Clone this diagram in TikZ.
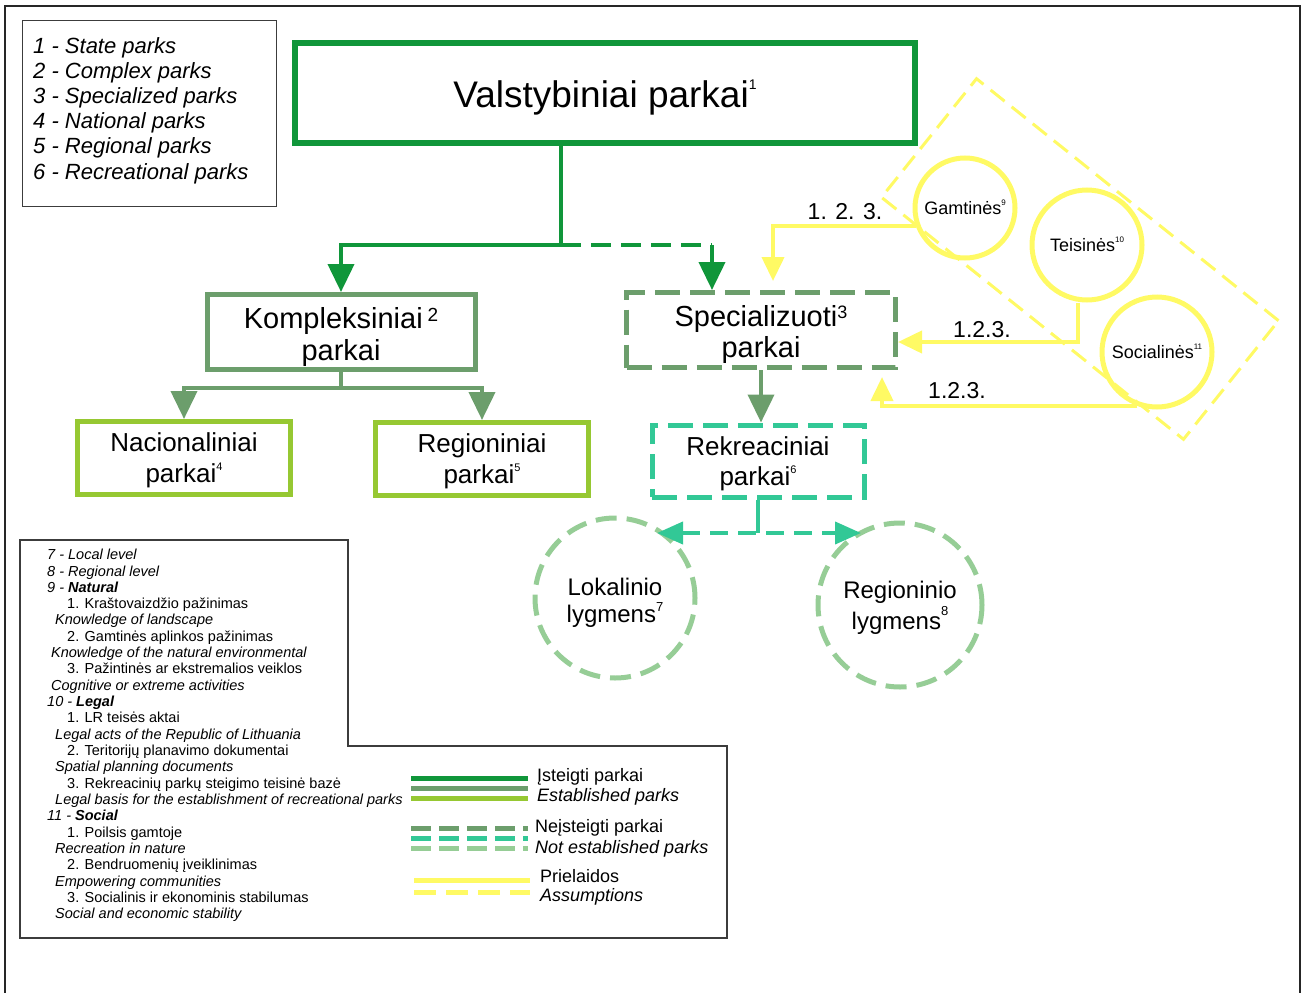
\documentclass[tikz,border=0pt]{standalone}
\usepackage{fontspec}
\setmainfont{Liberation Sans}
\usetikzlibrary{arrows.meta}
\definecolor{cDark}{RGB}{16,150,58}
\definecolor{cGray}{RGB}{108,158,108}
\definecolor{cLime}{RGB}{150,200,50}
\definecolor{cTeal}{RGB}{50,200,150}
\definecolor{cPale}{RGB}{150,205,150}
\definecolor{cYel}{RGB}{255,250,100}
\definecolor{cFrame}{RGB}{60,60,60}
\newcommand\supx[3]{\smash{\raisebox{#2}{\fontsize{#1}{#1}\selectfont #3}}}
\newcommand\fs[2]{\fontsize{#1}{#2}\selectfont}
\newcommand\dn[1]{\rule{0pt}{#1}}
\begin{document}
\begin{tikzpicture}[x=1pt,y=-1pt,
  parkbox/.style={draw, line width=5pt, align=center, inner sep=0pt, text=black},
  boxdash/.style={dash pattern=on 25pt off 10pt},
  ycirc/.style={circle, draw=cYel, line width=5pt, inner sep=0pt, align=center},
  pcirc/.style={circle, draw=cPale, line width=5pt, dash pattern=on 21pt off 10pt, inner sep=0pt, align=center, font=\fs{24}{27}},
  estab/.style={draw=cDark, line width=4pt},
  gline/.style={draw=cGray, line width=4pt},
  tline/.style={draw=cTeal, line width=4pt},
  yline/.style={draw=cYel, line width=4pt},
  gtip/.style={-{Triangle[width=26pt,length=28pt]}},
  ytip/.style={-{Triangle[width=22pt,length=24pt]}},
  ttip/.style={{Triangle[width=22pt,length=26pt]}-{Triangle[width=22pt,length=26pt]}},
  lab/.style={font=\fs{23}{26}, inner sep=0pt},
  legtxt/.style={anchor=north west, align=left, inner sep=0pt},
  legline/.style={draw=cFrame, line width=1.2pt}
]
\useasboundingbox (0,0) rectangle (1307,993);
% outer frame
\draw[line width=2pt, black!85] (5,993) -- (5,6) -- (1300,6) -- (1300,993);

% legend 1
\node[legline, anchor=north west, minimum width=254pt, minimum height=186pt, inner sep=0pt] (leg1) at (22,20) {};
\node[legtxt, font=\fs{22}{25.2}\itshape] (leg1t) at (33,37) {1 - State parks\\2 - Complex parks\\3 - Specialized parks\\4 - National parks\\5 - Regional parks\\6 - Recreational parks};

% main boxes
\node[parkbox, draw=cDark, line width=6pt, minimum width=620pt, minimum height=100pt, font=\fs{37}{40}] (val) at (605,93) {\dn{37pt}Valstybiniai parkai\supx{14}{18pt}{1}};
\node[parkbox, draw=cGray, minimum width=268pt, minimum height=75pt, font=\fs{29}{32}] (komp) at (341,332) {\dn{31pt}Kompleksiniai\,\supx{19}{7pt}{2}\\parkai};
\node[parkbox, draw=cLime, minimum width=213pt, minimum height=73pt, font=\fs{26}{31}] (nac) at (184,458) {\dn{23pt}Nacionaliniai\\parkai\supx{11}{12pt}{4}};
\node[parkbox, draw=cLime, minimum width=213pt, minimum height=73pt, font=\fs{26}{31}] (reg) at (482,459) {\dn{23pt}Regioniniai\\parkai\supx{11}{12pt}{5}};
\node[parkbox, boxdash, draw=cGray, minimum width=269pt, minimum height=75pt, font=\fs{29}{31}] (spec) at (761,330) {\dn{31pt}Specializuoti\supx{18}{8pt}{3}\\parkai};
\node[parkbox, boxdash, draw=cTeal, minimum width=212pt, minimum height=72pt, font=\fs{26}{30}] (rek) at (758,461) {\dn{25pt}Rekreaciniai\\parkai\supx{11}{12pt}{6}};

% level circles
\node[pcirc, minimum size=160pt] (lok) at (615,598) {\dn{27.5pt}Lokalinio\\lygmens\supx{13}{11pt}{7}};
\node[pcirc, minimum size=164pt, font=\fs{24}{31}] (regl) at (900,605) {\dn{23.5pt}Regioninio\\lygmens\supx{13}{14pt}{8}};

% yellow group
\node[draw=cYel, line width=3pt, dash pattern=on 18pt off 9pt, minimum width=387pt, minimum height=152pt, rotate=-38.7, inner sep=0pt] (yframe) at (1080,259) {};
\node[ycirc, minimum size=100pt, font=\fs{18}{20}] (gam) at (965,208) {Gamtinės\supx{8}{9pt}{9}};
\node[ycirc, minimum size=110pt, font=\fs{18}{20}] (tei) at (1087,245) {Teisinės\supx{8}{9pt}{10}};
\node[ycirc, minimum size=110pt, font=\fs{18}{20}] (soc) at (1157,352) {Socialinės\supx{8}{9pt}{11}};

% green connectors
\coordinate (j1) at (561,245);
\coordinate (j1b) at (712,245);
\draw[estab] (j1 |- val.south) -- (j1);
\draw[estab, gtip] (j1) -| (komp.north);
\draw[estab, dash pattern=on 20pt off 10pt] (j1) -- (j1b);
\draw[estab, gtip] (j1b) -- (j1b |- spec.north);

\coordinate (j2) at (343,388);
\draw[gline] (komp.south) -- (komp.south |- j2);
\draw[gline, gtip] (komp.south |- j2) -| (nac.north);
\draw[gline, gtip] (komp.south |- j2) -| (reg.north);
\draw[gline, gtip] (spec.south) -- (spec.south |- rek.north);

\coordinate (j3) at (758,533);
\coordinate (t1) at (657,533);
\coordinate (t2) at (861,533);
\draw[tline] (rek.south) -- (j3);
\draw[tline, dash pattern=on 18pt off 10pt, ttip] (t1) -- (t2);

% yellow connectors
\coordinate (ya1) at (773,281);
\draw[yline, ytip] (gam.200) -| (ya1);
\node[lab] (l1) at (845,212) {1. 2. 3.};
\coordinate (y2) at (1078,342);
\draw[yline, ytip] (y2 |- tei.south) -- (y2) -- (y2 -| spec.east);
\node[lab] (l2) at (982,330) {1.2.3.};
\coordinate (ya3) at (882,377);
\draw[yline, ytip] (soc.250) -| (ya3);
\node[lab] (l3) at (957,391) {1.2.3.};

% legend 2
\draw[legline] (20,540) -- (348,540) -- (348,746) -- (727,746) -- (727,938) -- (20,938) -- cycle;
\node[legtxt, font=\fs{14.5}{16.32}] (leg2t) at (47,549) {%
\textit{7 - Local level}\\
\textit{8 - Regional level}\\
\textit{9 - \textbf{Natural}}\\
\hspace*{20pt}1. Kraštovaizdžio pažinimas\\
\hspace*{8pt}\textit{Knowledge of landscape}\\
\hspace*{20pt}2. Gamtinės aplinkos pažinimas\\
\hspace*{4pt}\textit{Knowledge of the natural environmental}\\
\hspace*{20pt}3. Pažintinės ar ekstremalios veiklos\\
\hspace*{4pt}\textit{Cognitive or extreme activities}\\
\textit{10 - \textbf{Legal}}\\
\hspace*{20pt}1. LR teisės aktai\\
\hspace*{8pt}\textit{Legal acts of the Republic of Lithuania}\\
\hspace*{20pt}2. Teritorijų planavimo dokumentai\\
\hspace*{8pt}\textit{Spatial planning documents}\\
\hspace*{20pt}3. Rekreacinių parkų steigimo teisinė bazė\\
\hspace*{8pt}\textit{Legal basis for the establishment of recreational parks}\\
\textit{11 - \textbf{Social}}\\
\hspace*{20pt}1. Poilsis gamtoje\\
\hspace*{8pt}\textit{Recreation in nature}\\
\hspace*{20pt}2. Bendruomenių įveiklinimas\\
\hspace*{8pt}\textit{Empowering communities}\\
\hspace*{20pt}3. Socialinis ir ekonominis stabilumas\\
\hspace*{8pt}\textit{Social and economic stability}};

% line legend
\draw[line width=5pt, cDark] (411,778) -- (528,778);
\draw[line width=5pt, cGray] (411,788) -- (528,788);
\draw[line width=5pt, cLime] (411,798) -- (528,798);
\draw[line width=5pt, cGray, dash pattern=on 20pt off 8pt] (411,828) -- (528,828);
\draw[line width=5pt, cTeal, dash pattern=on 20pt off 8pt] (411,838) -- (528,838);
\draw[line width=5pt, cPale, dash pattern=on 20pt off 8pt] (411,848) -- (528,848);
\draw[line width=5pt, cYel] (414,880) -- (530,880);
\draw[line width=5pt, cYel, dash pattern=on 22pt off 10pt] (414,892) -- (530,892);
\node[anchor=west, inner sep=0pt, font=\fs{18}{20}] (e1) at (537,777) {Įsteigti parkai};
\node[anchor=west, inner sep=0pt, font=\fs{18}{20}\itshape] (e2) at (537,797) {Established parks};
\node[anchor=west, inner sep=0pt, font=\fs{18}{20}] (e3) at (535,828) {Neįsteigti parkai};
\node[anchor=west, inner sep=0pt, font=\fs{18}{20}\itshape] (e4) at (535,849) {Not established parks};
\node[anchor=west, inner sep=0pt, font=\fs{18}{20}] (e5) at (540,876) {Prielaidos};
\node[anchor=west, inner sep=0pt, font=\fs{18}{20}\itshape] (e6) at (540,897) {Assumptions};
\end{tikzpicture}
\end{document}
